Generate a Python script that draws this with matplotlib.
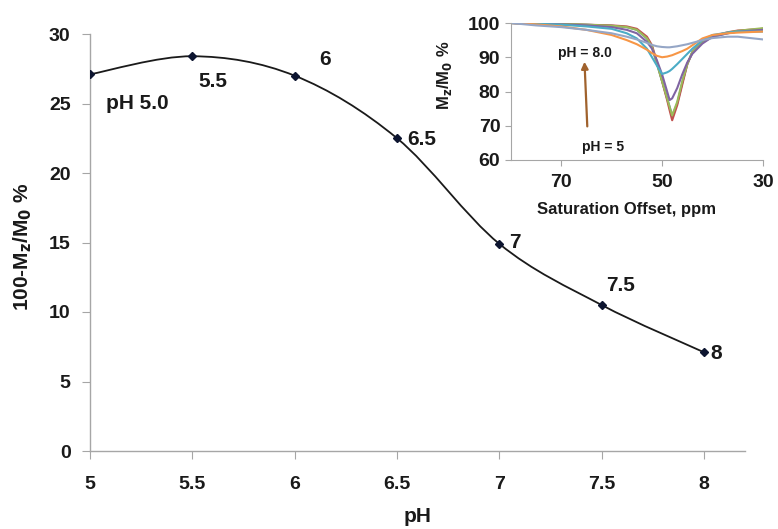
import numpy as np
import matplotlib
matplotlib.use("Agg")
import matplotlib.pyplot as plt
from matplotlib.path import Path
from matplotlib.patches import PathPatch

plt.rcParams['font.family'] = ['Liberation Sans', 'DejaVu Sans']
plt.rcParams['font.weight'] = 'bold'

# ---- main data ----
ph = [5.0, 5.5, 6.0, 6.5, 7.0, 7.5, 8.0]
cest = [27.1, 28.4, 27.0, 22.5, 14.9, 10.5, 7.1]
point_labels = ["pH 5.0", "5.5", "6", "6.5", "7", "7.5", "8"]
main_xticks = [5, 5.5, 6, 6.5, 7, 7.5, 8]
main_xticklabels = ["5", "5.5", "6", "6.5", "7", "7.5", "8"]
main_yticks = [0, 5, 10, 15, 20, 25, 30]

# ---- inset data (Z-spectra, Mz/M0 %) ----
offset = [80, 75, 70, 65, 60, 57, 55, 53, 52, 51, 50, 49, 48.5, 48, 47, 46, 45, 44, 42, 40, 37, 35, 30]
z_ph50 = [100, 99.8, 99.7, 99.5, 99.2, 98.8, 98.0, 95.5, 93.0, 88.0, 83.0, 78.0, 75.5, 72.9, 76.5, 82.5, 88.0, 91.5, 94.5, 96.0, 97.0, 97.5, 98.0]
z_ph55 = [100, 99.8, 99.7, 99.5, 99.3, 99.0, 98.3, 96.0, 93.5, 88.5, 83.0, 77.5, 74.5, 71.6, 76.0, 82.0, 88.0, 91.5, 94.5, 96.2, 97.3, 97.8, 98.3]
z_ph60 = [100, 99.8, 99.7, 99.5, 99.2, 98.8, 98.0, 95.5, 93.0, 88.0, 83.0, 78.0, 75.5, 73.0, 77.0, 83.0, 88.0, 91.5, 94.3, 96.0, 97.2, 97.7, 98.5]
z_ph65 = [100, 99.8, 99.6, 99.3, 98.8, 98.0, 97.0, 94.5, 92.5, 89.0, 85.0, 80.0, 77.5, 78.0, 81.0, 85.0, 88.5, 91.0, 94.0, 96.0, 97.0, 97.5, 98.0]
z_ph70 = [100, 99.8, 99.5, 99.0, 98.3, 97.0, 95.5, 92.5, 90.0, 87.5, 85.1, 85.6, 86.0, 86.6, 88.0, 89.5, 91.0, 92.5, 95.0, 96.5, 97.2, 97.5, 97.5]
z_ph75 = [100, 99.6, 99.0, 98.0, 96.5, 95.0, 93.8, 92.2, 91.2, 90.4, 90.0, 90.2, 90.4, 90.6, 91.2, 91.8, 92.5, 93.5, 95.5, 96.5, 97.0, 97.2, 97.5]
z_ph80 = [100, 99.3, 98.8, 98.0, 97.0, 96.0, 95.2, 94.2, 93.6, 93.2, 93.0, 92.9, 92.9, 93.0, 93.2, 93.5, 93.8, 94.2, 95.0, 95.6, 96.0, 96.0, 95.2]
z_series = [z_ph50, z_ph55, z_ph60, z_ph65, z_ph70, z_ph75, z_ph80]
z_colors = ['#4F81BD', '#C0504D', '#9BBB59', '#8064A2', '#4BACC6', '#F79646', '#95A6C6']
inset_xticks = [70, 50, 30]
inset_yticks = [60, 70, 80, 90, 100]

W, H = 778, 529
fig = plt.figure(figsize=(W / 100, H / 100), dpi=100)
ax = fig.add_axes([90 / W, 1 - 451 / H, (745 - 90) / W, (451 - 34) / H])

# smooth (Catmull-Rom style Bezier) line through points, as in the spreadsheet chart
x = np.array(ph)
y = np.array(cest)
verts = [(x[0], y[0])]
codes = [Path.MOVETO]
n = len(x)
for i in range(n - 1):
    p0 = np.array([x[max(i - 1, 0)], y[max(i - 1, 0)]])
    p1 = np.array([x[i], y[i]])
    p2 = np.array([x[i + 1], y[i + 1]])
    p3 = np.array([x[min(i + 2, n - 1)], y[min(i + 2, n - 1)]])
    c1 = p1 + (p2 - p0) / 6.0
    c2 = p2 - (p3 - p1) / 6.0
    verts += [tuple(c1), tuple(c2), tuple(p2)]
    codes += [Path.CURVE4] * 3
ax.add_patch(PathPatch(Path(verts, codes), facecolor='none', edgecolor='#1a1a1a', lw=1.3, zorder=2))
ax.plot(ph, cest, linestyle='none', marker='D', ms=4.5, color='#0d1530', zorder=3)

label_pos = [(5.08, 25.0), (5.53, 26.6), (6.12, 28.2),
             (6.55, 22.4), (7.05, 15.0), (7.52, 11.9), (8.03, 7.0)]
for (lx, ly), t in zip(label_pos, point_labels):
    ax.text(lx, ly, t, fontsize=15, fontweight='bold', ha='left', va='center', color='#1a1a1a')

ax.set_xlim(5, 8.2)
ax.set_ylim(0, 30)
ax.set_xticks(main_xticks)
ax.set_xticklabels(main_xticklabels)
ax.set_yticks(main_yticks)
for s in ['top', 'right']:
    ax.spines[s].set_visible(False)
for s in ['left', 'bottom']:
    ax.spines[s].set_color('#a6a6a6')
    ax.spines[s].set_linewidth(1.0)
ax.tick_params(axis='both', direction='out', length=6, color='#a6a6a6', labelsize=14, labelcolor='#1a1a1a')
ax.tick_params(axis='x', pad=12)
ax.tick_params(axis='y', pad=8)
for lab in ax.get_xticklabels() + ax.get_yticklabels():
    lab.set_fontweight('bold')
ax.set_xlabel('pH', fontsize=15, fontweight='bold', labelpad=10, color='#1a1a1a')
ax.set_ylabel('100-M$_\\mathbf{z}$/M$_\\mathbf{0}$ %', fontsize=15, fontweight='bold', color='#1a1a1a')
ax.yaxis.set_label_coords(-0.085, 0.49)

# ---- inset ----
ia = fig.add_axes([510.7 / W, 1 - 160 / H, (763 - 510.7) / W, (160 - 23) / H])
for zs, c in zip(z_series, z_colors):
    ia.plot(offset, zs, color=c, lw=1.5)
ia.set_xlim(80, 30)
ia.set_ylim(60, 100)
ia.set_xticks(inset_xticks)
ia.set_yticks(inset_yticks)
for s in ['top', 'right']:
    ia.spines[s].set_visible(False)
for s in ['left', 'bottom']:
    ia.spines[s].set_color('#a6a6a6')
ia.tick_params(axis='both', direction='out', length=4, color='#a6a6a6', labelsize=14, labelcolor='#1a1a1a')
ia.tick_params(axis='x', pad=6)
for lab in ia.get_xticklabels() + ia.get_yticklabels():
    lab.set_fontweight('bold')
ia.set_xlabel('Saturation Offset, ppm', fontsize=12, fontweight='bold', color='#1a1a1a', labelpad=0)
ia.xaxis.set_label_coords(0.46, -0.31)
ia.set_ylabel('M$_\\mathbf{z}$/M$_\\mathbf{0}$ %', fontsize=12, fontweight='bold', color='#1a1a1a')
ia.yaxis.set_label_coords(-0.225, 0.62)

ia.annotate('', xy=(65.4, 89.5), xytext=(64.8, 69.0),
            arrowprops=dict(arrowstyle='-|>', color='#A0622D', lw=1.6, mutation_scale=10),
            annotation_clip=False)
ia.text(65.3, 91.3, 'pH = 8.0', fontsize=10, fontweight='bold', ha='center', va='center', color='#1a1a1a')
ia.text(61.7, 63.8, 'pH = 5', fontsize=10, fontweight='bold', ha='center', va='center', color='#1a1a1a')

fig.savefig('out.png', dpi=100)
